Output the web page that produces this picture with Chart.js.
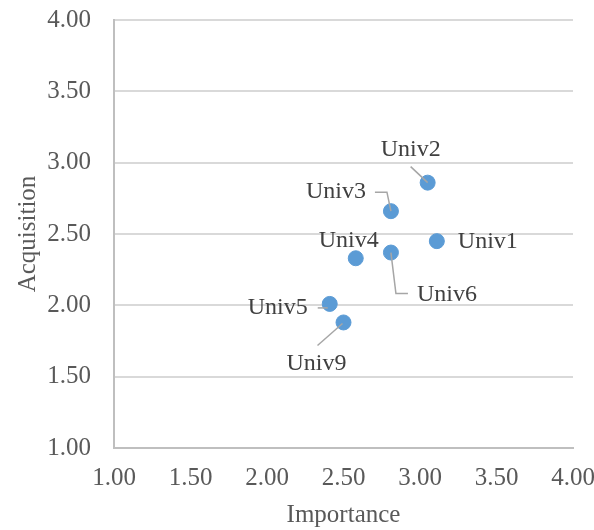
<!DOCTYPE html>
<html>
<head>
<meta charset="utf-8">
<script src="https://cdn.jsdelivr.net/npm/chart.js@4.4.1/dist/chart.umd.min.js"></script>
<style>
  html, body { margin: 0; padding: 0; background: #fff; }
  #wrap { width: 594px; height: 530px; position: relative; }
</style>
</head>
<body>
<div id="wrap"><canvas id="scatter"></canvas></div>
<script>
// values
const names = ['Univ1', 'Univ2', 'Univ3', 'Univ4', 'Univ5', 'Univ6', 'Univ9'];
const importance = [3.11, 3.05, 2.81, 2.58, 2.41, 2.81, 2.50];
const acquisition = [2.45, 2.86, 2.66, 2.33, 2.01, 2.37, 1.88];
const axisTicks = [1.0, 1.5, 2.0, 2.5, 3.0, 3.5, 4.0];

// label placement relative to each point (pixels), plus leader line paths
const labelPlacement = {
  Univ1: { dx: 51, dy: 1 },
  Univ2: { dx: -17, dy: -33, leader: [[-17, -16], [0, 0]] },
  Univ3: { dx: -55, dy: -19, leader: [[-16, -19], [-4, -19], [0, 0]] },
  Univ4: { dx: -7, dy: -18 },
  Univ5: { dx: -52, dy: 4, leader: [[-12, 4], [-2, 4]] },
  Univ6: { dx: 56, dy: 42, leader: [[0, 0], [5, 41], [17, 41]] },
  Univ9: { dx: -27, dy: 41, leader: [[-26, 23], [-1, 1]] }
};

const FONT = "'Liberation Serif', 'Times New Roman', serif";
const TEXT = '#595959';

const pointLabels = {
  id: 'pointLabels',
  afterDatasetsDraw(chart) {
    const ctx = chart.ctx;
    const meta = chart.getDatasetMeta(0);
    ctx.save();
    meta.data.forEach((pt, i) => {
      const p = labelPlacement[names[i]];
      if (!p) return;
      if (p.leader) {
        ctx.beginPath();
        ctx.strokeStyle = '#a6a6a6';
        ctx.lineWidth = 1.5;
        p.leader.forEach(([lx, ly], k) => {
          if (k === 0) ctx.moveTo(pt.x + lx, pt.y + ly);
          else ctx.lineTo(pt.x + lx, pt.y + ly);
        });
        ctx.stroke();
      }
      ctx.fillStyle = '#404040';
      ctx.font = '24px ' + FONT;
      ctx.textAlign = 'center';
      ctx.textBaseline = 'middle';
      ctx.fillText(names[i], pt.x + p.dx, pt.y + p.dy);
    });
    ctx.restore();
  }
};

new Chart(document.getElementById('scatter'), {
  type: 'scatter',
  data: {
    datasets: [{
      label: 'Universities',
      data: importance.map((v, i) => ({ x: v, y: acquisition[i] })),
      backgroundColor: '#5b9bd5',
      borderColor: '#5b9bd5',
      pointRadius: 7.5,
      pointHoverRadius: 7.5
    }]
  },
  options: {
    responsive: true,
    maintainAspectRatio: false,
    animation: false,
    layout: { padding: { top: 20, right: 21, left: 0, bottom: 0 } },
    plugins: {
      legend: { display: false },
      tooltip: { enabled: false }
    },
    scales: {
      x: {
        type: 'linear',
        min: 1,
        max: 4,
        afterBuildTicks: (s) => { s.ticks = axisTicks.map(v => ({ value: v })); },
        afterFit: (s) => { s.height = 82; s.paddingRight = 0; s.paddingLeft = 0; },
        ticks: {
          padding: 15,
          color: TEXT,
          font: { family: FONT, size: 25 },
          callback: (v) => Number(v).toFixed(2)
        },
        grid: { display: false, drawTicks: false },
        border: { display: true, color: '#bfbfbf', width: 2 },
        title: {
          display: true,
          text: 'Importance',
          color: TEXT,
          font: { family: FONT, size: 25 },
          padding: { top: 0, bottom: 0 }
        }
      },
      y: {
        type: 'linear',
        min: 1,
        max: 4,
        afterBuildTicks: (s) => { s.ticks = axisTicks.map(v => ({ value: v })); },
        afterFit: (s) => { s.width = 114; s.paddingTop = 0; s.paddingBottom = 0; },
        ticks: {
          padding: 23,
          color: TEXT,
          font: { family: FONT, size: 25 },
          callback: (v) => Number(v).toFixed(2)
        },
        grid: { color: '#d9d9d9', lineWidth: 2, drawTicks: false },
        border: { display: true, color: '#bfbfbf', width: 2 },
        title: {
          display: true,
          text: 'Acquisition',
          color: TEXT,
          font: { family: FONT, size: 25 },
          padding: { top: 13, bottom: 0 }
        }
      }
    }
  },
  plugins: [pointLabels]
});
</script>
</body>
</html>
